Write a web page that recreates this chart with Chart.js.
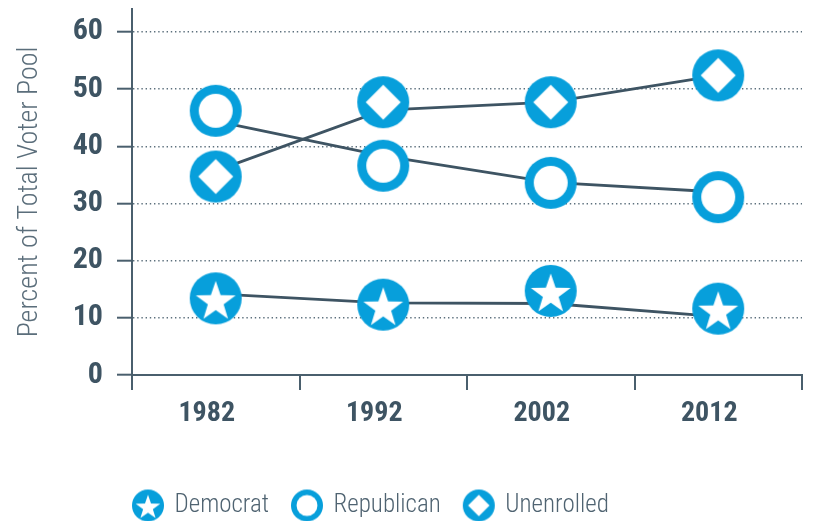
<!DOCTYPE html>
<html>
<head>
<meta charset="utf-8">
<script src="https://cdn.jsdelivr.net/npm/chart.js@4/dist/chart.umd.min.js"></script>
<style>
  html, body { margin: 0; padding: 0; background: #ffffff; }
  #wrap { width: 817px; height: 521px; }
</style>
</head>
<body>
<div id="wrap"><canvas id="c" width="817" height="521"></canvas></div>
<script>
// ---- data ----
const years = ['1982', '1992', '2002', '2012'];
const seriesNames = ['Democrat', 'Republican', 'Unenrolled'];
// connecting line values
const democratLine   = [14.2, 12.6, 12.5, 10.2];
const republicanLine = [44.4, 38.3, 33.7, 32.0];
const unenrolledLine = [35.7, 46.3, 47.7, 52.4];
// marker values (markers sit slightly off the lines in the original)
const democratMarker   = [13.4, 12.3, 14.7, 11.6];
const republicanMarker = [46.2, 36.6, 33.6, 31.1];
const unenrolledMarker = [34.7, 47.7, 47.7, 52.4];
const yTicks = [0, 10, 20, 30, 40, 50, 60];
const yTitle = 'Percent of Total Voter Pool';

// ---- styles ----
const BLUE = '#079fdb';
const SLATE = '#3e5463';
const AXIS = '#4a5f6d';
const FONT = '"Liberation Sans Narrow", "Roboto Condensed", "DejaVu Sans Condensed", "Liberation Sans", sans-serif';

function makeIcon(kind, r) {
  const s = Math.ceil(r * 2 + 2);
  const cv = document.createElement('canvas');
  cv.width = s; cv.height = s;
  const g = cv.getContext('2d');
  const c = s / 2;
  g.fillStyle = BLUE;
  g.beginPath(); g.arc(c, c, r, 0, Math.PI * 2); g.fill();
  g.fillStyle = '#ffffff';
  const k = r / 26;
  if (kind === 'star') {
    const R = 21 * k, ri = 8.3 * k, cy = c + 3.5 * k;
    g.beginPath();
    for (let i = 0; i < 10; i++) {
      const rad = i % 2 === 0 ? R : ri;
      const a = -Math.PI / 2 + i * Math.PI / 5;
      const px = c + rad * Math.cos(a), py = cy + rad * Math.sin(a);
      if (i === 0) g.moveTo(px, py); else g.lineTo(px, py);
    }
    g.closePath(); g.fill();
  } else if (kind === 'ring') {
    g.beginPath(); g.arc(c, c, 17 * k, 0, Math.PI * 2); g.fill();
  } else {
    const d = 17.5 * k;
    g.beginPath();
    g.moveTo(c, c - d); g.lineTo(c + d, c); g.lineTo(c, c + d); g.lineTo(c - d, c);
    g.closePath(); g.fill();
  }
  return cv;
}
const kinds = ['star', 'ring', 'diamond'];
const bigIcons = kinds.map(k => makeIcon(k, 26));
const smallIcons = kinds.map(k => makeIcon(k, 16));

const lineData = [democratLine, republicanLine, unenrolledLine];
const markerData = [democratMarker, republicanMarker, unenrolledMarker];

const datasets = [];
seriesNames.forEach((name, i) => {
  datasets.push({
    label: name,
    data: lineData[i],
    borderColor: SLATE,
    borderWidth: 2.8,
    pointRadius: 0,
    pointHoverRadius: 0,
    tension: 0,
    fill: false,
    order: 2
  });
});
seriesNames.forEach((name, i) => {
  datasets.push({
    label: name + ' marker',
    data: markerData[i],
    showLine: false,
    pointStyle: bigIcons[i],
    pointRadius: 26,
    pointHoverRadius: 26,
    clip: false,
    order: 1
  });
});

const legendPlace = {
  id: 'legendPlace',
  afterLayout(chart) {
    const lg = chart.legend;
    if (!lg) return;
    const pad = lg.options.labels.padding;
    const w = lg.right - lg.left;
    lg.left = 134 - pad;
    lg.right = lg.left + w;
    lg.top = 493 - pad;
  }
};

new Chart(document.getElementById('c'), {
  type: 'line',
  data: { labels: years, datasets },
  plugins: [legendPlace],
  options: {
    responsive: false,
    animation: false,
    devicePixelRatio: 1,
    layout: { autoPadding: false, padding: { top: 9, right: 15, left: 0, bottom: 0 } },
    plugins: {
      tooltip: { enabled: false },
      legend: {
        position: 'bottom',
        align: 'start',
        labels: {
          usePointStyle: true,
          pointStyleWidth: 28,
          padding: 24,
          color: '#4f6371',
          font: { family: FONT, size: 25, weight: 300 },
          generateLabels: () => seriesNames.map((name, i) => ({
            text: name,
            pointStyle: smallIcons[i],
            fillStyle: BLUE,
            strokeStyle: BLUE,
            lineWidth: 0,
            hidden: false,
            datasetIndex: i,
            fontColor: '#4f6371'
          }))
        }
      }
    },
    scales: {
      x: {
        type: 'category',
        offset: true,
        afterFit: s => { s.height = 87; s.paddingLeft = 0; s.paddingRight = 0; },
        grid: {
          offset: true,
          drawOnChartArea: false,
          drawTicks: true,
          tickLength: 15,
          color: AXIS,
          lineWidth: 2
        },
        border: { display: true, color: AXIS, width: 2 },
        ticks: {
          padding: 7,
          labelOffset: -9,
          color: SLATE,
          font: { family: FONT, size: 28, weight: 'bold' },
          maxRotation: 0
        }
      },
      y: {
        min: 0,
        max: 64,
        afterBuildTicks: s => { s.ticks = yTicks.map(v => ({ value: v })); },
        afterFit: s => { s.width = 132; s.paddingTop = 0; s.paddingBottom = 0; },
        grid: {
          drawOnChartArea: true,
          color: '#5d707d',
          lineWidth: 1.4,
          tickLength: 15,
          tickColor: AXIS,
          tickWidth: 2,
          tickBorderDash: []
        },
        border: { display: true, color: AXIS, width: 2, dash: [1.4, 2.8] },
        ticks: {
          padding: 14,
          color: SLATE,
          font: { family: FONT, size: 30, weight: 'bold' }
        },
        title: {
          display: true,
          text: yTitle,
          color: '#5b6e7b',
          padding: { top: 13, bottom: 0 },
          font: { family: FONT, size: 28, weight: 300 }
        }
      }
    }
  }
});
</script>
</body>
</html>
